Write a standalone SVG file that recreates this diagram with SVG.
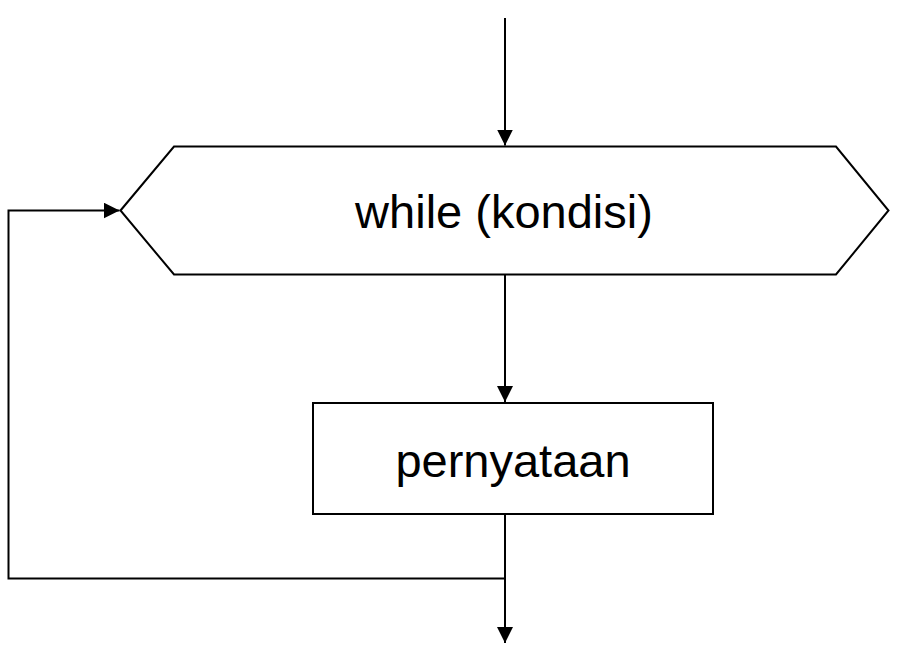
<svg xmlns="http://www.w3.org/2000/svg" width="898" height="646" viewBox="0 0 898 646">
<style>
.shape{fill:#fff;stroke:#000;stroke-width:2}
.conn{fill:none;stroke:#000;stroke-width:2}
.lbl{font-family:"Liberation Sans",Arial,sans-serif;font-size:47px;fill:#000;text-anchor:middle}
</style>
<defs>
<marker id="ah" markerUnits="userSpaceOnUse" markerWidth="16" markerHeight="16" viewBox="0 0 16 16" refX="16" refY="8" orient="auto">
<path d="M0,0 L16,8 L0,16 Z" fill="#000"/>
</marker>
</defs>
<g id="while">
<polygon class="shape" points="120.5,210.5 174,146.5 836,146.5 888.5,210.5 836,274.5 174,274.5"/>
<text class="lbl" x="504" y="228">while (kondisi)</text>
</g>
<g id="pernyataan">
<rect class="shape" x="313" y="403" width="400" height="111"/>
<text class="lbl" x="513" y="477">pernyataan</text>
</g>
<g id="connectors">
<line class="conn" x1="505" y1="18" x2="505" y2="145.5" marker-end="url(#ah)"/>
<line class="conn" x1="505" y1="275" x2="505" y2="402" marker-end="url(#ah)"/>
<polyline class="conn" points="505,514 505,578.5 8.5,578.5 8.5,210.5 119.5,210.5" marker-end="url(#ah)"/>
<line class="conn" x1="505" y1="578" x2="505" y2="643" marker-end="url(#ah)"/>
</g>
</svg>
